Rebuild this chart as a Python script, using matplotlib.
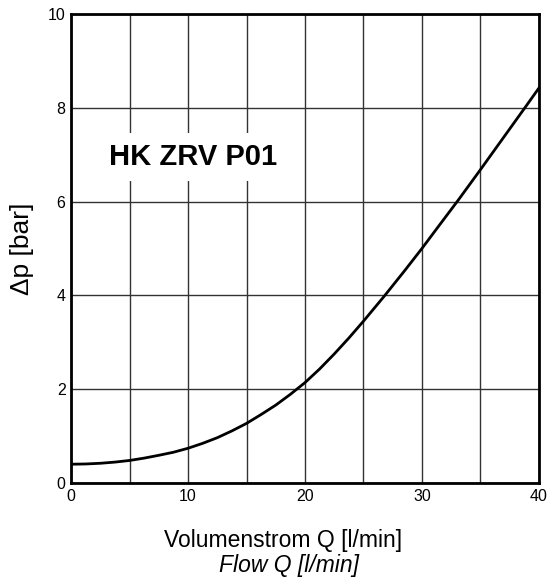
import numpy as np
import matplotlib.pyplot as plt

plt.rcParams['font.family'] = ['Liberation Sans', 'DejaVu Sans']

# flow Q [l/min] and pressure drop dp [bar]
flow = [0, 1.25, 2.5, 3.75, 5, 6.25, 7.5, 8.75, 10, 11.25, 12.5, 13.75, 15, 16.25, 17.5, 18.75,
        20, 21.25, 22.5, 23.75, 25, 26.8, 28.5, 30, 31.5, 33.1, 35, 36.9, 38.8, 40]
dp = [0.40, 0.405, 0.42, 0.445, 0.48, 0.53, 0.59, 0.655, 0.74, 0.845, 0.965, 1.11, 1.27, 1.46, 1.66, 1.89,
      2.14, 2.43, 2.75, 3.09, 3.45, 3.99, 4.52, 5.00, 5.50, 6.03, 6.68, 7.34, 8.00, 8.42]

xlabels = ['0', '', '10', '', '20', '', '30', '', '40']
yticks = [0, 2, 4, 6, 8, 10]

fig = plt.figure(figsize=(5.51, 5.84), dpi=100)
ax = fig.add_axes([0.129, 0.173, 0.849, 0.803])

ax.plot(flow, dp, color='black', lw=2, zorder=3)

ax.set_xlim(0, 40)
ax.set_ylim(0, 10)
ax.set_xticks(np.arange(0, 41, 5))
ax.set_xticklabels(xlabels)
ax.set_yticks(yticks)
ax.grid(True, color='#333333', lw=1)
ax.tick_params(length=0, labelsize=11.5, pad=4)
for s in ax.spines.values():
    s.set_linewidth(2)

ax.text(10.4, 6.95, 'HK ZRV P01', fontsize=21, fontweight='bold', ha='center', va='center',
        bbox=dict(facecolor='white', edgecolor='none', pad=7), zorder=4)

ax.set_ylabel('\u0394p [bar]', fontsize=19, labelpad=10)
fig.text(0.514, 0.075, 'Volumenstrom Q [l/min]', fontsize=16.5, ha='center', va='center')
fig.text(0.524, 0.032, 'Flow Q [l/min]', fontsize=16.5, ha='center', va='center', style='italic')

fig.savefig('out.png', dpi=100)
